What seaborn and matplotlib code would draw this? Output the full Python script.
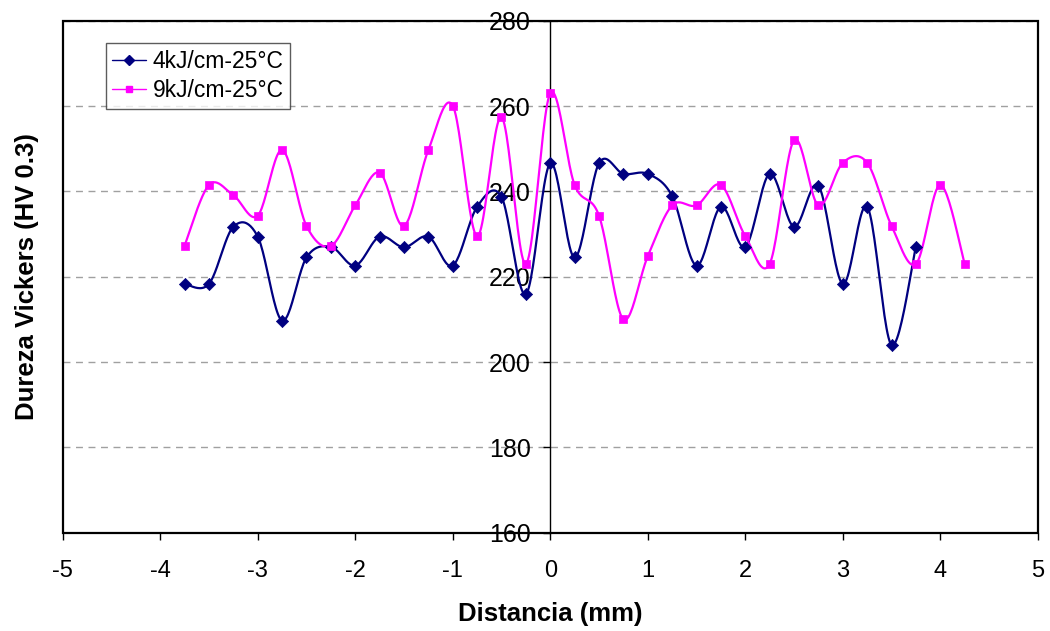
import numpy as np
import pandas as pd
import matplotlib
matplotlib.use("Agg")
import matplotlib.pyplot as plt
import seaborn as sns
from matplotlib.lines import Line2D
from matplotlib.patches import Rectangle

# Vickers hardness profiles across the weld (distance from centre line, mm)
distance_4kj = [-3.75, -3.5, -3.25, -3.0, -2.75, -2.5, -2.25, -2.0, -1.75, -1.5,
                -1.25, -1.0, -0.75, -0.5, -0.25, 0.0, 0.25, 0.5, 0.75, 1.0,
                1.25, 1.5, 1.75, 2.0, 2.25, 2.5, 2.75, 3.0, 3.25, 3.5, 3.75]
hv_4kj = [218.3, 218.3, 231.7, 229.4, 209.7, 224.5, 227.0, 222.6, 229.4, 226.9,
          229.4, 222.6, 236.4, 238.7, 215.9, 246.6, 224.5, 246.6, 244.1, 244.1,
          238.9, 222.6, 236.4, 227.0, 244.1, 231.7, 241.3, 218.3, 236.4, 204.0,
          227.0]

distance_9kj = [-3.75, -3.5, -3.25, -3.0, -2.75, -2.5, -2.25, -2.0, -1.75, -1.5,
                -1.25, -1.0, -0.75, -0.5, -0.25, 0.0, 0.25, 0.5, 0.75, 1.0,
                1.25, 1.5, 1.75, 2.0, 2.25, 2.5, 2.75, 3.0, 3.25, 3.5, 3.75,
                4.0, 4.25]
hv_9kj = [227.3, 241.5, 239.1, 234.3, 249.7, 231.9, 227.2, 236.7, 244.4, 231.9,
          249.7, 260.1, 229.5, 257.4, 223.0, 263.0, 241.5, 234.3, 210.0, 224.8,
          236.7, 236.7, 241.5, 229.5, 223.0, 252.0, 236.7, 246.7, 246.7, 231.9,
          223.0, 241.5, 223.0]

series_labels = ["4kJ/cm-25°C", "9kJ/cm-25°C"]
x_ticks = [-5, -4, -3, -2, -1, 0, 1, 2, 3, 4, 5]
y_ticks = [160, 180, 200, 220, 240, 260, 280]


def smooth_curve(x, y, steps=24):
    """Cubic Bezier smoothing through every point (Catmull-Rom tangents)."""
    x = np.asarray(x, float)
    y = np.asarray(y, float)
    px = np.concatenate([[x[0]], x, [x[-1]]])
    py = np.concatenate([[y[0]], y, [y[-1]]])
    t = np.linspace(0.0, 1.0, steps, endpoint=False)[:, None]
    xs, ys = [], []
    for i in range(len(x) - 1):
        p = np.array([[px[i + k], py[i + k]] for k in range(4)])
        c1 = p[1] + (p[2] - p[0]) / 6.0
        c2 = p[2] - (p[3] - p[1]) / 6.0
        b = ((1 - t) ** 3) * p[1] + 3 * ((1 - t) ** 2) * t * c1 \
            + 3 * (1 - t) * t ** 2 * c2 + t ** 3 * p[2]
        xs.append(b[:, 0])
        ys.append(b[:, 1])
    xs.append([x[-1]])
    ys.append([y[-1]])
    return np.concatenate(xs), np.concatenate(ys)


sns.set_style("white")
plt.rcParams["font.family"] = ["Liberation Sans", "DejaVu Sans"]
plt.rcParams["text.color"] = "black"
plt.rcParams["axes.labelcolor"] = "black"

fig = plt.figure(figsize=(10.5, 6.31), dpi=100)
ax = fig.add_axes([0.0597, 0.1558, 0.9287, 0.8114])

styles = [
    dict(x=distance_4kj, y=hv_4kj, color="#000080", marker="D", ms=6.2),
    dict(x=distance_9kj, y=hv_9kj, color="#FF00FF", marker="s", ms=6.0),
]

handles = []
for st, label in zip(styles, series_labels):
    sx, sy = smooth_curve(st["x"], st["y"])
    curve = pd.DataFrame({"Distancia": sx, "HV": sy})
    pts = pd.DataFrame({"Distancia": st["x"], "HV": st["y"]})
    sns.lineplot(data=curve, x="Distancia", y="HV", sort=False, estimator=None,
                 color=st["color"], lw=1.6, ax=ax, zorder=3)
    sns.scatterplot(data=pts, x="Distancia", y="HV", marker=st["marker"],
                    s=st["ms"] ** 2, color=st["color"], edgecolor=st["color"],
                    linewidth=0.5, ax=ax, zorder=4)
    handles.append(Line2D([], [], color=st["color"], lw=1.0,
                          marker=st["marker"], ms=st["ms"] * 0.8,
                          markeredgecolor=st["color"], label=label))

ax.set_xlim(-5, 5)
ax.set_ylim(160, 280)
ax.set_xticks(x_ticks)
ax.set_xticklabels([str(v) for v in x_ticks])
ax.set_yticks(y_ticks)
ax.set_yticklabels([str(v) for v in y_ticks])

# y axis runs through x = 0; the outer frame is drawn separately
for side in ["left", "right", "top", "bottom"]:
    ax.spines[side].set_visible(False)
ax.spines["left"].set_visible(True)
ax.spines["left"].set_position(("data", 0))
ax.spines["left"].set_linewidth(1.0)
ax.spines["left"].set_color("black")
ax.add_patch(Rectangle((0, 0), 1, 1, transform=ax.transAxes, fill=False,
                       ec="black", lw=1.6, zorder=5, clip_on=False))

ax.yaxis.grid(True, color="#a0a0a0", linestyle=(0, (5, 4)), lw=1.0)
ax.xaxis.grid(False)
ax.set_axisbelow(True)

ax.tick_params(axis="x", bottom=True, direction="out", length=5, width=1,
               pad=15, labelsize=17, colors="black")
ax.tick_params(axis="y", left=True, direction="out", length=5, width=1,
               pad=9, labelsize=18, colors="black")

ax.set_xlabel("Distancia (mm)", fontsize=18.5, fontweight="bold", color="black")
ax.set_ylabel("Dureza Vickers (HV 0.3)", fontsize=18.5, fontweight="bold",
              color="black")
ax.xaxis.set_label_coords(0.5, -0.135)
ax.yaxis.set_label_coords(-0.024, 0.5)

leg = ax.legend(handles=handles, loc="upper left", bbox_to_anchor=(0.044, 0.957),
                borderaxespad=0, fontsize=16.5, handlelength=1.45,
                handletextpad=0.3, borderpad=0.3, labelspacing=0.3,
                fancybox=False, shadow=False, frameon=True)
leg.get_frame().set_edgecolor("#333333")
leg.get_frame().set_linewidth(1.0)
leg.set_zorder(6)
for txt in leg.get_texts():
    txt.set_color("black")

fig.savefig("out.png", dpi=100, facecolor="white")
